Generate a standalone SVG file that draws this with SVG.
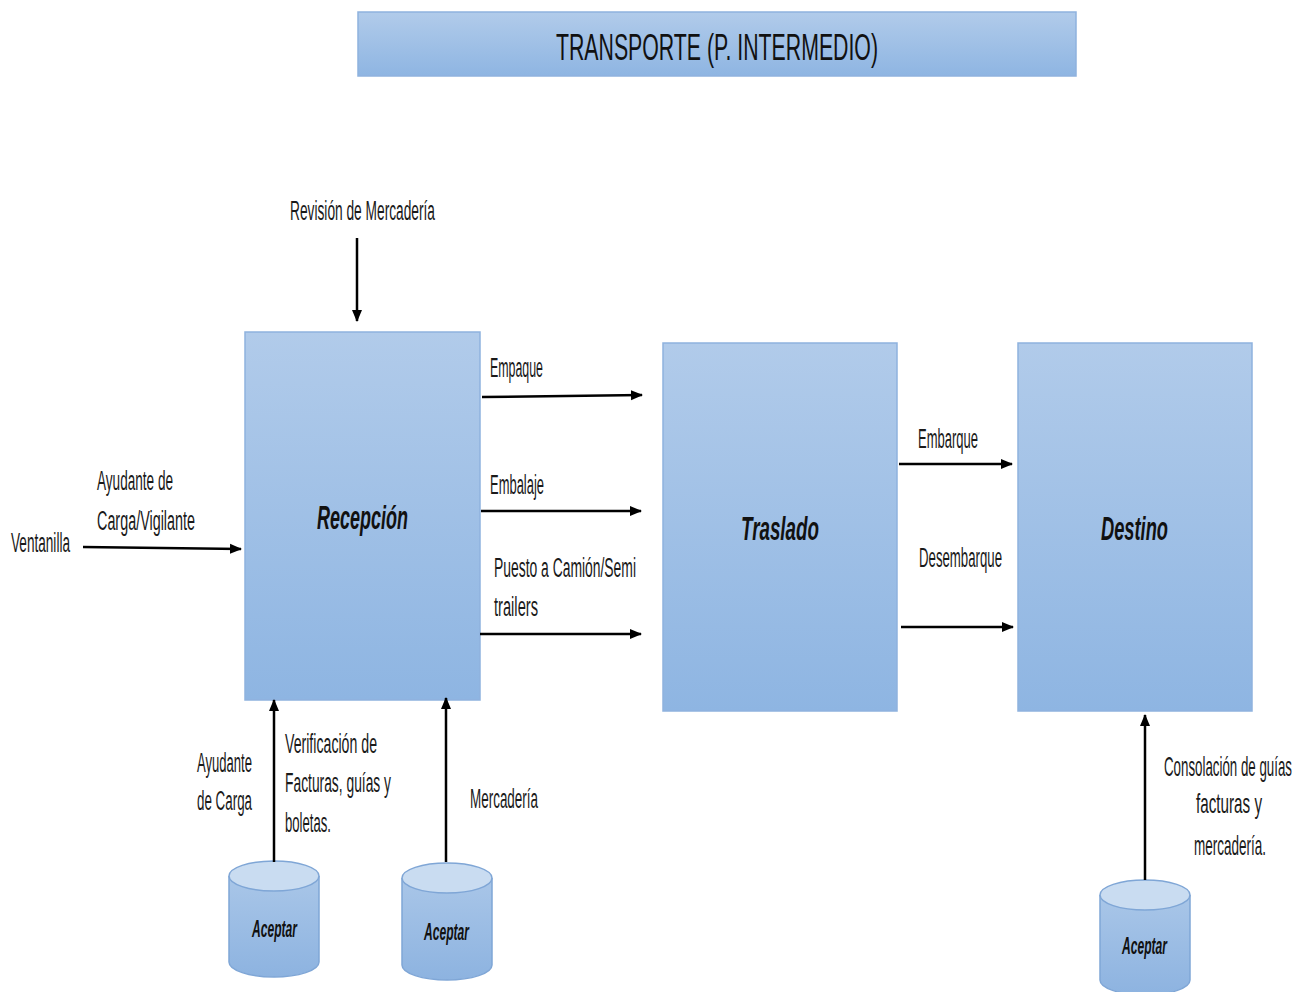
<svg xmlns="http://www.w3.org/2000/svg" width="1302" height="992" viewBox="0 0 1302 992">
  <defs>
    <linearGradient id="boxFill" x1="0" y1="0" x2="0" y2="1">
      <stop offset="0" stop-color="#b1cbea"/>
      <stop offset="1" stop-color="#8eb5e2"/>
    </linearGradient>
    <linearGradient id="cylFill" x1="0" y1="0" x2="0" y2="1">
      <stop offset="0" stop-color="#a9c6e8"/>
      <stop offset="1" stop-color="#8db3e0"/>
    </linearGradient>
    <marker id="arrow" markerUnits="userSpaceOnUse" markerWidth="12" markerHeight="12" viewBox="0 0 12 12" refX="11" refY="6" orient="auto">
      <path d="M0,1 L12,6 L0,11 Z" fill="#000"/>
    </marker>
  </defs>
  <style>
    .box { fill: url(#boxFill); stroke: #8fb2de; stroke-width: 1.5; }
    .cyl { fill: url(#cylFill); stroke: #7fa6d6; stroke-width: 1.5; }
    .cylTop { fill: #c9dcf1; stroke: #7fa6d6; stroke-width: 1.5; }
    .conn { stroke: #000; stroke-width: 2.5; fill: none; marker-end: url(#arrow); }
    .lbl { font-family: "Liberation Sans", "DejaVu Sans", sans-serif; font-size: 27px; fill: #1a1a1a; }
    .title { font-family: "Liberation Sans", "DejaVu Sans", sans-serif; font-size: 37px; fill: #111; }
    .node { font-family: "Liberation Sans", "DejaVu Sans", sans-serif; font-weight: bold; font-style: italic; font-size: 34px; fill: #111; }
    .cylTxt { font-family: "Liberation Sans", "DejaVu Sans", sans-serif; font-weight: bold; font-style: italic; font-size: 24px; fill: #111; }
  </style>

  <!-- title banner -->
  <g id="title">
    <rect class="box" x="358" y="12" width="718" height="64"/>
    <text class="title" x="556" y="60" textLength="322" lengthAdjust="spacingAndGlyphs">TRANSPORTE (P. INTERMEDIO)</text>
  </g>

  <!-- process nodes -->
  <g id="recepcion">
    <rect class="box" x="245" y="332" width="235" height="368"/>
    <text class="node" x="317" y="529" textLength="91" lengthAdjust="spacingAndGlyphs">Recepción</text>
  </g>
  <g id="traslado">
    <rect class="box" x="663" y="343" width="234" height="368"/>
    <text class="node" x="741" y="540" textLength="78" lengthAdjust="spacingAndGlyphs">Traslado</text>
  </g>
  <g id="destino">
    <rect class="box" x="1018" y="343" width="234" height="368"/>
    <text class="node" x="1101" y="540" textLength="67" lengthAdjust="spacingAndGlyphs">Destino</text>
  </g>

  <!-- data stores -->
  <g id="aceptar1">
    <path class="cyl" d="M229,876 L229,962 A45,15 0 0 0 319,962 L319,876"/>
    <ellipse class="cylTop" cx="274" cy="876" rx="45" ry="15"/>
    <text class="cylTxt" x="252" y="937" textLength="45" lengthAdjust="spacingAndGlyphs">Aceptar</text>
  </g>
  <g id="aceptar2">
    <path class="cyl" d="M402,878 L402,965 A45,15 0 0 0 492,965 L492,878"/>
    <ellipse class="cylTop" cx="447" cy="878" rx="45" ry="15"/>
    <text class="cylTxt" x="424" y="940" textLength="45" lengthAdjust="spacingAndGlyphs">Aceptar</text>
  </g>
  <g id="aceptar3">
    <path class="cyl" d="M1100,895 L1100,980 A45,15 0 0 0 1190,980 L1190,895"/>
    <ellipse class="cylTop" cx="1145" cy="895" rx="45" ry="15"/>
    <text class="cylTxt" x="1122" y="954" textLength="45" lengthAdjust="spacingAndGlyphs">Aceptar</text>
  </g>

  <!-- connectors -->
  <g id="connectors">
    <line class="conn" x1="357" y1="238" x2="357" y2="321"/>
    <line class="conn" x1="83" y1="547" x2="241" y2="549"/>
    <line class="conn" x1="482" y1="397" x2="642" y2="395"/>
    <line class="conn" x1="481" y1="511" x2="641" y2="511"/>
    <line class="conn" x1="480" y1="634" x2="641" y2="634"/>
    <line class="conn" x1="899" y1="464" x2="1012" y2="464"/>
    <line class="conn" x1="901" y1="627" x2="1013" y2="627"/>
    <line class="conn" x1="274" y1="862" x2="274" y2="700"/>
    <line class="conn" x1="446" y1="862" x2="446" y2="698"/>
    <line class="conn" x1="1145" y1="880" x2="1145" y2="715"/>
  </g>

  <!-- connector labels -->
  <g id="labels">
    <text class="lbl" x="290" y="220" textLength="145" lengthAdjust="spacingAndGlyphs">Revisión de Mercadería</text>
    <text class="lbl" x="490" y="377" textLength="53" lengthAdjust="spacingAndGlyphs">Empaque</text>
    <text class="lbl" x="490" y="494" textLength="54" lengthAdjust="spacingAndGlyphs">Embalaje</text>
    <text class="lbl" x="494" y="577" textLength="142" lengthAdjust="spacingAndGlyphs">Puesto a Camión/Semi</text>
    <text class="lbl" x="494" y="616" textLength="44" lengthAdjust="spacingAndGlyphs">trailers</text>
    <text class="lbl" x="11" y="552" textLength="59" lengthAdjust="spacingAndGlyphs">Ventanilla</text>
    <text class="lbl" x="97" y="490" textLength="76" lengthAdjust="spacingAndGlyphs">Ayudante de</text>
    <text class="lbl" x="97" y="530" textLength="98" lengthAdjust="spacingAndGlyphs">Carga/Vigilante</text>
    <text class="lbl" x="918" y="448" textLength="60" lengthAdjust="spacingAndGlyphs">Embarque</text>
    <text class="lbl" x="919" y="567" textLength="83" lengthAdjust="spacingAndGlyphs">Desembarque</text>
    <text class="lbl" x="197" y="772" textLength="55" lengthAdjust="spacingAndGlyphs">Ayudante</text>
    <text class="lbl" x="197" y="810" textLength="55" lengthAdjust="spacingAndGlyphs">de Carga</text>
    <text class="lbl" x="285" y="753" textLength="92" lengthAdjust="spacingAndGlyphs">Verificación de</text>
    <text class="lbl" x="285" y="792" textLength="106" lengthAdjust="spacingAndGlyphs">Facturas, guías y</text>
    <text class="lbl" x="285" y="832" textLength="46" lengthAdjust="spacingAndGlyphs">boletas.</text>
    <text class="lbl" x="470" y="808" textLength="68" lengthAdjust="spacingAndGlyphs">Mercadería</text>
    <!-- narrow labels near the right edge, squeezed horizontally -->
    <text class="lbl" transform="translate(1164,776) scale(0.5,1)" x="0" y="0" textLength="256" lengthAdjust="spacingAndGlyphs">Consolación de guías</text>
    <text class="lbl" transform="translate(1196,813) scale(0.5,1)" x="0" y="0" textLength="132" lengthAdjust="spacingAndGlyphs">facturas y</text>
    <text class="lbl" transform="translate(1194,855) scale(0.5,1)" x="0" y="0" textLength="144" lengthAdjust="spacingAndGlyphs">mercadería.</text>
  </g>
</svg>
